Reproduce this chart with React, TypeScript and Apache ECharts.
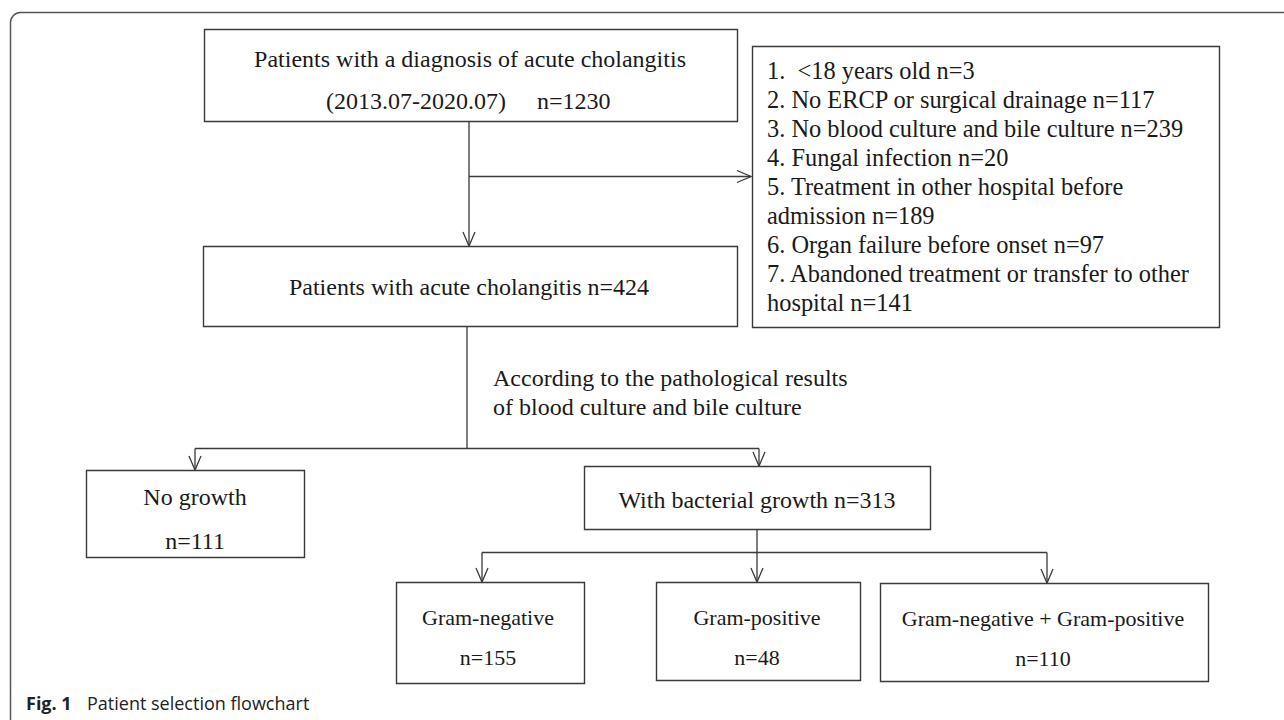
import React, { useEffect, useRef } from "react";
import * as echarts from "echarts";

// ---- Data ----
const screenedTitle = "Patients with a diagnosis of acute cholangitis";
const screenedPeriod = "(2013.07-2020.07)";
const screenedN = 1230;

const exclusionReasons = [
  ["1.  <18 years old"],
  ["2. No ERCP or surgical drainage"],
  ["3. No blood culture and bile culture"],
  ["4. Fungal infection"],
  ["5. Treatment in other hospital before", "admission"],
  ["6. Organ failure before onset"],
  ["7. Abandoned treatment or transfer to other", "hospital"],
];
const exclusionCounts = [3, 117, 239, 20, 189, 97, 141];

const includedTitle = "Patients with acute cholangitis";
const includedN = 424;

const splitNote = ["According to the pathological results", "of blood culture and bile culture"];

const growthGroups = ["No growth", "With bacterial growth"];
const growthCounts = [111, 313];

const bacteriaGroups = ["Gram-negative", "Gram-positive", "Gram-negative + Gram-positive"];
const bacteriaCounts = [155, 48, 110];

const captionBold = "Fig. 1";
const captionText = "Patient selection flowchart";

// ---- Styles ----
const SERIF = '"Liberation Serif", "Times New Roman", serif';
const SANS = '"Open Sans", "Noto Sans", sans-serif';
const INK = "#1a1a1a";
const LINE = "#3a3a3a";

function rect(x: number, y: number, w: number, h: number) {
  return {
    type: "rect",
    shape: { x: x + 0.5, y: y + 0.5, width: w, height: h },
    style: { fill: "#fff", stroke: LINE, lineWidth: 1.4 },
  };
}
function poly(points: number[][]) {
  return {
    type: "polyline",
    shape: { points },
    style: { fill: null, stroke: LINE, lineWidth: 1.3 },
  };
}
function arrowDown(x: number, y: number) {
  return poly([[x - 6, y - 14], [x, y], [x + 6, y - 14]]);
}
function arrowRight(x: number, y: number) {
  return poly([[x - 14, y - 6], [x, y], [x - 14, y + 6]]);
}
function txt(text: string, x: number, y: number, size: number, align = "center") {
  return {
    type: "text",
    x,
    y,
    style: {
      text,
      font: `${size}px ${SERIF}`,
      fill: INK,
      textAlign: align,
      textVerticalAlign: "middle",
    },
  };
}

export default function App() {
  const ref = useRef<HTMLDivElement>(null);
  useEffect(() => {
    if (!ref.current) return;
    const chart = echarts.init(ref.current, null, { renderer: "svg" });
    const els: any[] = [];

    // outer frame
    els.push({
      type: "rect",
      shape: { x: 10.5, y: 12.5, width: 1320, height: 800, r: 10 },
      style: { fill: "none", stroke: "#555", lineWidth: 1.5 },
    });

    // connectors
    els.push(poly([[469, 121], [469, 246]]));
    els.push(arrowDown(469, 246));
    els.push(poly([[469, 176.5], [751, 176.5]]));
    els.push(arrowRight(751, 176.5));

    els.push(poly([[467, 326], [467, 448.5]]));
    els.push(poly([[195, 448.5], [759, 448.5]]));
    els.push(poly([[195, 448.5], [195, 470]]));
    els.push(arrowDown(195, 470));
    els.push(poly([[759, 448.5], [759, 466]]));
    els.push(arrowDown(759, 466));

    els.push(poly([[757, 529], [757, 582]]));
    els.push(arrowDown(757, 582));
    els.push(poly([[482, 552.5], [1047, 552.5]]));
    els.push(poly([[482, 552.5], [482, 582]]));
    els.push(arrowDown(482, 582));
    els.push(poly([[1047, 552.5], [1047, 583]]));
    els.push(arrowDown(1047, 583));

    // Box 1
    els.push(rect(204, 29, 533, 92));
    els.push(txt(screenedTitle, 470, 59, 24));
    els.push(txt(screenedPeriod, 506, 101, 24, "right"));
    els.push(txt(`n=${screenedN}`, 537, 101, 24, "left"));

    // Exclusion box
    els.push(rect(752, 46, 467, 281));
    let line = 0;
    exclusionReasons.forEach((parts, i) => {
      parts.forEach((p, j) => {
        const t = j === parts.length - 1 ? `${p} n=${exclusionCounts[i]}` : p;
        els.push(txt(t, 767, 70 + line * 29.1, 24.4, "left"));
        line++;
      });
    });

    // Box 2
    els.push(rect(203, 246, 534, 80));
    els.push(txt(`${includedTitle} n=${includedN}`, 469, 287, 24));

    // split note
    splitNote.forEach((s, i) => els.push(txt(s, 493, 378 + i * 29, 24, "left")));

    // growth boxes
    els.push(rect(86, 470, 218, 87));
    els.push(txt(growthGroups[0], 195, 497, 24));
    els.push(txt(`n=${growthCounts[0]}`, 195, 541, 24));

    els.push(rect(584, 466, 346, 63));
    els.push(txt(`${growthGroups[1]} n=${growthCounts[1]}`, 757, 500, 24));

    // bacteria boxes
    const bx = [
      [396, 582, 188, 101, 488],
      [656, 582, 204, 98, 757],
      [880, 583, 328, 98, 1043],
    ];
    bx.forEach((b, i) => {
      els.push(rect(b[0], b[1], b[2], b[3]));
      els.push(txt(bacteriaGroups[i], b[4], b[1] + 35, 22));
      els.push(txt(`n=${bacteriaCounts[i]}`, b[4], b[1] + 75, 22));
    });

    // caption
    els.push({
      type: "text",
      x: 26,
      y: 703,
      style: {
        text: captionBold,
        font: `bold 18px ${SANS}`,
        fill: "#222",
        textAlign: "left",
        textVerticalAlign: "middle",
      },
    });
    els.push({
      type: "text",
      x: 87,
      y: 703,
      style: {
        text: captionText,
        font: `18px ${SANS}`,
        fill: "#222",
        textAlign: "left",
        textVerticalAlign: "middle",
      },
    });

    chart.setOption({
      animation: false,
      backgroundColor: "#fff",
      graphic: { elements: els },
    });
    return () => chart.dispose();
  }, []);
  return (
    <div
      ref={ref}
      style={{ position: "fixed", left: 0, top: 0, width: 1284, height: 720, background: "#fff" }}
    />
  );
}
